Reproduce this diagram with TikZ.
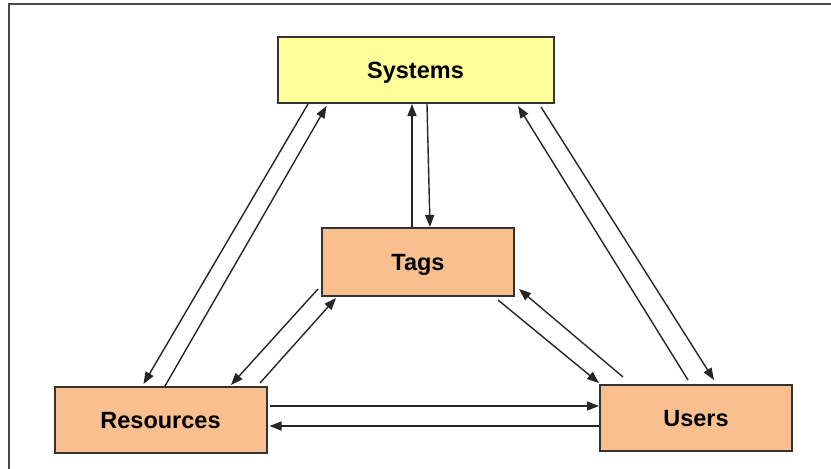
\documentclass[tikz,border=0pt]{standalone}
\usepackage{fontspec}
\setmainfont{Liberation Sans}
\usetikzlibrary{arrows.meta,calc}
\definecolor{sysfill}{HTML}{FFFF99}
\definecolor{peach}{HTML}{F9BF8F}
\definecolor{edge}{HTML}{333333}
\definecolor{frameline}{HTML}{4A4A4A}
\tikzset{
  box/.style={draw=edge, line width=2pt, inner sep=0pt,
    text height=16.8pt, text depth=0pt,
    font=\fontsize{23.5}{28}\selectfont\bfseries},
  link/.style={line width=1.4pt, draw=black!85,
    -{Triangle[length=12pt,width=9pt]}}
}
\begin{document}
\begin{tikzpicture}[x=1pt,y=-1pt]
  \useasboundingbox (0,0) rectangle (831,469);
  % outer frame (left and top edges)
  \draw[frameline, line width=2pt] (9,469) -- (9,4) -- (831,4);

  % entities
  \node[box, fill=sysfill, minimum width=276pt, minimum height=66pt] (sys) at (415.5,70) {Systems};
  \node[box, fill=peach, minimum width=192pt, minimum height=68pt] (tags) at (418,262) {Tags};
  \node[box, fill=peach, minimum width=212pt, minimum height=66pt] (res) at (160.5,420) {Resources};
  \node[box, fill=peach, minimum width=192pt, minimum height=66pt] (usr) at (696,418) {Users};

  % Systems <-> Tags
  \draw[link] ($(tags.north west)+(91,0)$) -- ($(sys.south west)+(135.5,0)$);
  \draw[link] ($(sys.south west)+(150.5,0)$) -- ($(tags.north west)+(109,0)$);

  % Systems <-> Resources
  \draw[link] ($(sys.south west)+(31.5,0)$) -- ($(res.north west)+(90,-2)$);
  \draw[link] ($(res.north west)+(111.5,0)$) -- ($(sys.south west)+(50,2)$);

  % Tags <-> Resources
  \draw[link] ($(tags.south west)+(-3,-8)$) -- ($(res.north west)+(177.5,-1)$);
  \draw[link] ($(res.north west)+(206.5,-3)$) -- ($(tags.south west)+(15,1)$);

  % Tags <-> Users
  \draw[link] ($(tags.south west)+(177,3)$) -- ($(usr.north west)+(0,-1)$);
  \draw[link] ($(usr.north west)+(24,-7)$) -- ($(tags.south east)+(4,-8)$);

  % Systems <-> Users
  \draw[link] ($(usr.north west)+(89,-4)$) -- ($(sys.south east)+(-36.5,2)$);
  \draw[link] ($(sys.south east)+(-13.5,3)$) -- ($(usr.north west)+(115,-4)$);

  % Resources <-> Users
  \draw[link] ($(res.north east)+(2,20)$) -- ($(usr.north west)+(0,22)$);
  \draw[link] ($(usr.north west)+(0,42)$) -- ($(res.north east)+(2,40)$);
\end{tikzpicture}
\end{document}
